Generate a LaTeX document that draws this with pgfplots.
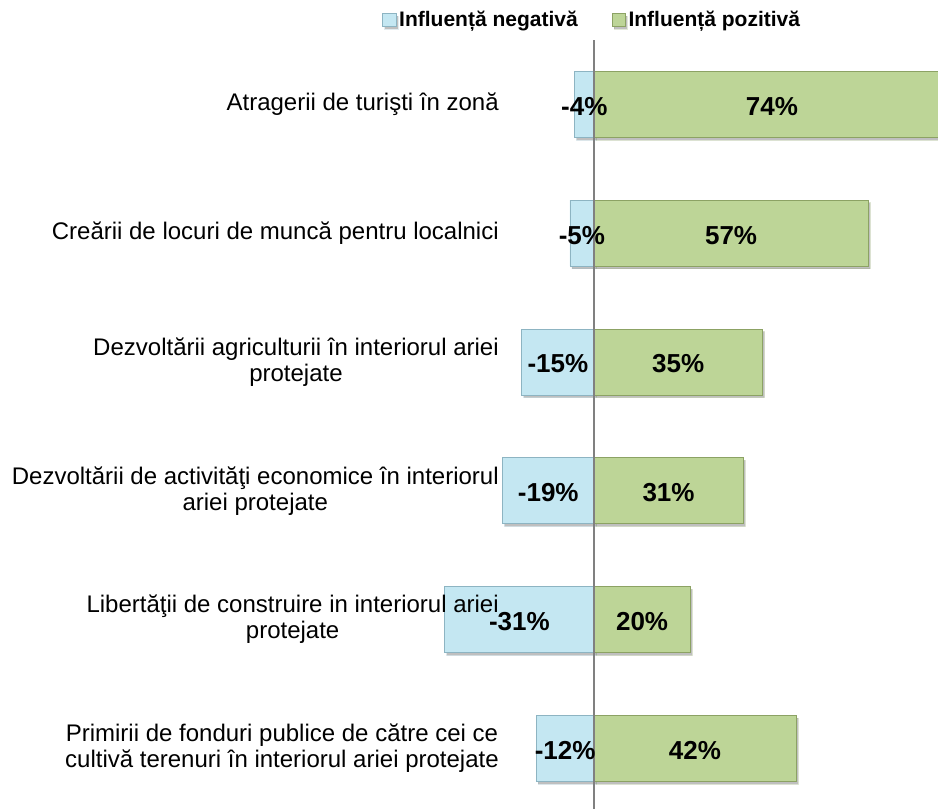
\documentclass[border=0pt]{standalone}
\usepackage{fontspec}
\setmainfont{Liberation Sans}
\usepackage{pgfplots}
\usepackage{pgfplotstable}
\pgfplotsset{compat=1.18}
\usetikzlibrary{shadows}
\definecolor{negM}{HTML}{C4E7F2}
\definecolor{negD}{HTML}{8DB4C2}
\definecolor{posM}{HTML}{BDD597}
\definecolor{posD}{HTML}{8CA264}
\pgfplotstableread{
y neg pos
6 -4 74
5 -5 57
4 -15 35
3 -19 31
2 -31 20
1 -12 42
}\data
\begin{document}
\begin{tikzpicture}
\begin{axis}[
  scale only axis,
  width=373.5pt, height=576.75pt,
  xmin=-32, xmax=71.5,
  ymin=0.53, ymax=6.5,
  axis on top,
  axis line style={draw=none},
  xtick=\empty,
  extra x ticks={0},
  extra x tick labels={},
  extra x tick style={grid=major, major grid style={draw=black!50, line width=1.4pt}, major tick length=0pt},
  ytick={1,2,3,4,5,6},
  yticklabels={{Primirii de fonduri publice de către cei ce\\cultivă terenuri în interiorul ariei protejate},
               {Libertăţii de construire in interiorul ariei\\protejate},
               {Dezvoltării de activităţi economice în interiorul\\ariei protejate},
               {Dezvoltării agriculturii în interiorul ariei\\protejate},
               {Creării de locuri de muncă pentru localnici},
               {Atragerii de turişti în zonă}},
  major tick length=0pt,
  yticklabel style={anchor=east, align=center, inner sep=0pt, xshift=44.25pt,
     font=\fontsize{18}{19.5}\selectfont},
  legend columns=2,
  legend style={draw=none, fill=none, at={(0.309,1)}, anchor=center, yshift=15pt, xshift=-1pt,
     font=\fontsize{15.75}{17}\bfseries, /tikz/every even column/.append style={column sep=23.5pt}},
  legend image code/.code={\draw[#1] (0pt,-5pt) rectangle (10pt,5pt);},
]
\addplot[xbar, bar width=49.5pt, bar shift=0pt, draw=negD, line width=0.6pt,
  fill=negM,
  drop shadow={shadow xshift=1.5pt, shadow yshift=-2pt, opacity=0.25, fill=black}]
  table[x=neg, y=y]{\data};
\addplot[xbar, bar width=49.5pt, bar shift=0pt, draw=posD, line width=0.6pt,
  fill=posM,
  drop shadow={shadow xshift=1.5pt, shadow yshift=-2pt, opacity=0.25, fill=black}]
  table[x=pos, y=y]{\data};
\addplot[draw=none, mark=none, forget plot, nodes near coords={\pgfplotspointmeta\%},
  point meta=explicit symbolic,
  every node near coord/.append style={anchor=center, yshift=-1.5pt, font=\fontsize{19.5}{20}\bfseries, text=black}]
  table[x expr=\thisrow{neg}/2, y=y, meta=neg]{\data};
\addplot[draw=none, mark=none, forget plot, nodes near coords={\pgfplotspointmeta\%},
  point meta=explicit symbolic,
  every node near coord/.append style={anchor=center, yshift=-1.5pt, font=\fontsize{19.5}{20}\bfseries, text=black}]
  table[x expr=\thisrow{pos}/2, y=y, meta=pos]{\data};
\legend{Influență negativă, Influență pozitivă}
\end{axis}
\pgfresetboundingbox
\path ([xshift=-330pt]current axis.south west) rectangle ([yshift=30pt]current axis.north east);
\end{tikzpicture}
\end{document}
